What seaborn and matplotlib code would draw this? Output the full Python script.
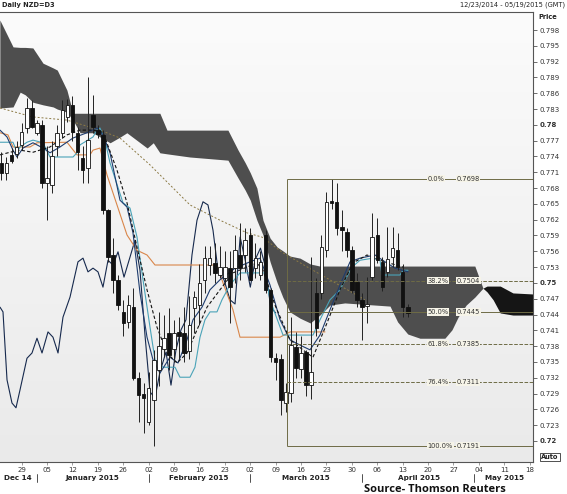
import matplotlib
matplotlib.use("Agg")
import matplotlib.pyplot as plt
import matplotlib.transforms as mtransforms
from matplotlib.colors import LinearSegmentedColormap
import numpy as np
import pandas as pd
import seaborn as sns

sns.set_theme(style="white")
plt.rcParams['font.family'] = ['DejaVu Sans']

# trading-day index: 0 = Mon 29 Dec 2014, -4 = Tue 23 Dec 2014
day_idx = list(range(-4, 77))
opens = [0.7728, 0.7709, 0.7743, 0.7745, 0.7762, 0.7794, 0.7832, 0.7785, 0.7800, 0.7690,
         0.7685, 0.7760, 0.7785, 0.7815, 0.7838, 0.7785, 0.7737, 0.7718, 0.7819, 0.7790,
         0.7781, 0.7638, 0.7553, 0.7505, 0.7445, 0.7425, 0.7454, 0.7320, 0.7290, 0.7236,
         0.7278, 0.7335, 0.7375, 0.7405, 0.7375, 0.7407, 0.7405, 0.7370, 0.7453, 0.7458,
         0.7505, 0.7534, 0.7538, 0.7515, 0.7510, 0.7528, 0.7528, 0.7553, 0.7553, 0.7591,
         0.7528, 0.7515, 0.7591, 0.7487, 0.7357, 0.7355, 0.7272, 0.7291, 0.7378, 0.7336,
         0.7369, 0.7306, 0.7481, 0.7481, 0.7563, 0.7656, 0.7654, 0.7606, 0.7597, 0.7563,
         0.7502, 0.7468, 0.7456, 0.7511, 0.7591, 0.7540, 0.7520, 0.7549, 0.7562, 0.7521,
         0.7454]
highs = [0.7748, 0.7739, 0.7756, 0.7770, 0.7803, 0.7851, 0.7847, 0.7810, 0.7810, 0.7760,
         0.7770, 0.7800, 0.7847, 0.7850, 0.7855, 0.7795, 0.7760, 0.7891, 0.7857, 0.7800,
         0.7790, 0.7640, 0.7585, 0.7515, 0.7468, 0.7478, 0.7490, 0.7330, 0.7310, 0.7330,
         0.7373, 0.7445, 0.7440, 0.7452, 0.7430, 0.7435, 0.7455, 0.7475, 0.7485, 0.7535,
         0.7570, 0.7570, 0.7575, 0.7570, 0.7560, 0.7560, 0.7590, 0.7614, 0.7605, 0.7605,
         0.7575, 0.7560, 0.7600, 0.7490, 0.7367, 0.7365, 0.7310, 0.7435, 0.7407, 0.7400,
         0.7372, 0.7549, 0.7510, 0.7590, 0.7673, 0.7698, 0.7690, 0.7638, 0.7605, 0.7570,
         0.7519, 0.7480, 0.7511, 0.7633, 0.7623, 0.7550, 0.7606, 0.7606, 0.7595, 0.7536,
         0.7460]
lows = [0.7695, 0.7695, 0.7728, 0.7738, 0.7752, 0.7784, 0.7794, 0.7780, 0.7680, 0.7620,
        0.7670, 0.7740, 0.7775, 0.7805, 0.7770, 0.7715, 0.7690, 0.7690, 0.7785, 0.7775,
        0.7630, 0.7540, 0.7480, 0.7448, 0.7400, 0.7415, 0.7315, 0.7236, 0.7215, 0.7230,
        0.7191, 0.7305, 0.7360, 0.7335, 0.7350, 0.7355, 0.7350, 0.7355, 0.7405, 0.7420,
        0.7480, 0.7515, 0.7500, 0.7510, 0.7500, 0.7424, 0.7500, 0.7505, 0.7520, 0.7505,
        0.7510, 0.7505, 0.7480, 0.7350, 0.7316, 0.7250, 0.7255, 0.7274, 0.7320, 0.7320,
        0.7285, 0.7280, 0.7400, 0.7470, 0.7550, 0.7640, 0.7590, 0.7560, 0.7550, 0.7480,
        0.7455, 0.7392, 0.7424, 0.7505, 0.7537, 0.7485, 0.7511, 0.7530, 0.7525, 0.7436,
        0.7436]
closes = [0.7709, 0.7728, 0.7731, 0.7758, 0.7786, 0.7832, 0.7796, 0.7803, 0.7690, 0.7700,
          0.7740, 0.7785, 0.7828, 0.7837, 0.7786, 0.7748, 0.7714, 0.7771, 0.7796, 0.7783,
          0.7638, 0.7549, 0.7505, 0.7458, 0.7424, 0.7458, 0.7320, 0.7288, 0.7282, 0.7300,
          0.7354, 0.7380, 0.7395, 0.7363, 0.7405, 0.7400, 0.7367, 0.7420, 0.7474, 0.7500,
          0.7547, 0.7547, 0.7519, 0.7530, 0.7530, 0.7492, 0.7562, 0.7528, 0.7581, 0.7505,
          0.7547, 0.7540, 0.7487, 0.7359, 0.7350, 0.7278, 0.7293, 0.7382, 0.7338, 0.7367,
          0.7306, 0.7330, 0.7414, 0.7568, 0.7654, 0.7652, 0.7604, 0.7600, 0.7563, 0.7487,
          0.7468, 0.7454, 0.7460, 0.7587, 0.7543, 0.7492, 0.7545, 0.7566, 0.7530, 0.7454,
          0.7443]

# Ichimoku cloud, grey part then black part
cloud_x = [-4.3, -1.7, -0.3, 0.7, 2.2, 4.2, 6.2, 7.0, 8.9, 10.1, 11.5, 14.0, 17.4, 19.4,
           20.7, 24.7, 25.9, 27.2, 28.6, 33.1, 40.6, 42.6, 44.0, 45.0, 46.3, 47.5, 48.9,
           50.3, 51.4, 52.8, 54.8, 56.8, 58.7, 60.7, 63.6, 72.5, 74.0, 76.0, 78.4, 83.3,
           84.7, 85.9, 87.5, 89.2, 90.8]
cloud_top = [0.7999, 0.7948, 0.7947, 0.7947, 0.7946, 0.7917, 0.7908, 0.7904, 0.7866, 0.7822,
             0.7822, 0.7822, 0.7822, 0.7822, 0.7822, 0.7822, 0.7822, 0.7822, 0.7790, 0.7790,
             0.7790, 0.7752, 0.7728, 0.7709, 0.7680, 0.7619, 0.7585, 0.7568, 0.7561, 0.7551,
             0.7547, 0.7536, 0.7532, 0.7532, 0.7532, 0.7532, 0.7532, 0.7532, 0.7532, 0.7532,
             0.7532, 0.7532, 0.7532, 0.7532, 0.7490]
cloud_bot = [0.7832, 0.7834, 0.7862, 0.7857, 0.7843, 0.7838, 0.7834, 0.7830, 0.7824, 0.7809,
             0.7785, 0.7785, 0.7766, 0.7777, 0.7785, 0.7756, 0.7766, 0.7747, 0.7745, 0.7739,
             0.7733, 0.7699, 0.7676, 0.7657, 0.7619, 0.7591, 0.7540, 0.7500, 0.7473, 0.7445,
             0.7433, 0.7424, 0.7439, 0.7458, 0.7462, 0.7456, 0.7426, 0.7403, 0.7395, 0.7395,
             0.7411, 0.7435, 0.7458, 0.7473, 0.7490]
cloud2_x = [90.8, 91.6, 92.8, 94.2, 96.7, 100.7]
cloud2_top = [0.7490, 0.7494, 0.7494, 0.7494, 0.7481, 0.7479]
cloud2_bot = [0.7490, 0.7483, 0.7468, 0.7443, 0.7439, 0.7439]

# indicator lines (vertices)
kijun_x = [-4.27, -2.7, -1.71, 1.63, 3.01, 8.92, 10.89, 13.44, 14.04, 15.41, 16.79, 18.76,
           20.73, 22.7, 24.67, 26.24, 38.44, 39.63, 41.59, 42.97, 50.85, 52.82, 59.7]
kijun_y = [0.7785, 0.7781, 0.7758, 0.7758, 0.7766, 0.7767, 0.7743, 0.7743, 0.7752, 0.7756,
           0.7705, 0.7648, 0.7591, 0.7562, 0.7553, 0.7534, 0.7534, 0.7500, 0.7449, 0.7397,
           0.7397, 0.7407, 0.7407]
tenkan_x = [-4.27, -1.71, -0.93, -0.33, 1.04, 2.22, 4.19, 5.57, 10.1, 10.89, 11.48, 14.04,
            14.82, 15.41, 16.39, 17.38, 19.94, 21.32, 22.7, 23.88, 25.26, 26.24, 27.81, 30.18,
            31.16, 33.13, 34.11, 35.1, 36.08, 37.07, 38.44, 39.43, 41.0, 42.97, 47.89, 48.88,
            51.44, 57.34, 58.72, 60.69, 62.66, 65.02, 66.59, 69.15, 70.53, 70.93, 74.47,
            75.06, 76.04]
tenkan_y = [0.7767, 0.7767, 0.7748, 0.7758, 0.7767, 0.7771, 0.7766, 0.7739, 0.7739, 0.7747,
            0.7762, 0.7777, 0.7790, 0.7794, 0.7771, 0.7728, 0.7652, 0.7642, 0.7587, 0.7506,
            0.7416, 0.7354, 0.7340, 0.7340, 0.7321, 0.7321, 0.7340, 0.7397, 0.7430, 0.7445,
            0.7445, 0.7468, 0.7496, 0.7519, 0.7519, 0.7468, 0.7401, 0.7401, 0.7430, 0.7468,
            0.7487, 0.7530, 0.7543, 0.7547, 0.7543, 0.7515, 0.7515, 0.7524, 0.7524]
fast_x = [-4.27, -2.89, -1.71, -0.93, 0.26, 2.22, 4.19, 5.57, 7.54, 10.1, 12.85, 14.82,
          16.0, 17.38, 19.35, 20.73, 21.91, 23.29, 24.67, 25.85, 27.22, 29.19, 30.77, 32.54,
          33.72, 35.49, 37.07, 39.04, 42.0, 44.94, 46.91, 48.88, 50.85, 52.82, 54.78, 56.75,
          58.72, 60.69, 62.66, 64.63, 66.59, 69.55, 71.52, 73.49, 76.04]
fast_y = [0.7790, 0.7777, 0.7752, 0.7739, 0.7756, 0.7766, 0.7756, 0.7747, 0.7758, 0.7775,
          0.7785, 0.7794, 0.7781, 0.7747, 0.7657, 0.7644, 0.7595, 0.7481, 0.7397, 0.7354,
          0.7329, 0.7359, 0.7348, 0.7392, 0.7430, 0.7454, 0.7487, 0.7506, 0.7528, 0.7540,
          0.7547, 0.7496, 0.7430, 0.7392, 0.7382, 0.7373, 0.7401, 0.7449, 0.7496, 0.7540,
          0.7547, 0.7553, 0.7540, 0.7528, 0.7521]
chikou_x = [-4.27, -3.68, -2.89, -1.91, -1.12, -0.33, 1.04, 2.03, 3.01, 4.0, 5.18, 6.16,
            7.15, 8.13, 9.51, 11.08, 12.07, 13.05, 14.04, 15.02, 16.0, 16.99, 17.97, 18.96,
            20.14, 21.32, 22.3, 23.29, 24.27, 25.26, 26.24, 27.22, 28.41, 29.39, 30.37, 31.36,
            32.34, 33.52, 34.51, 35.69, 36.67, 37.66, 38.64, 39.82, 41.0, 42.0, 43.0, 44.0,
            45.0, 46.0, 47.0, 48.0, 49.0, 50.0]
chikou_y = [0.7454, 0.7445, 0.7316, 0.7272, 0.7263, 0.7297, 0.7357, 0.7367, 0.7395, 0.7367,
            0.7407, 0.7397, 0.7367, 0.7435, 0.7473, 0.7540, 0.7547, 0.7521, 0.7528, 0.7521,
            0.7492, 0.7543, 0.7534, 0.7559, 0.7511, 0.7549, 0.7581, 0.7524, 0.7401, 0.7293,
            0.7282, 0.7331, 0.7369, 0.7306, 0.7373, 0.7411, 0.7430, 0.7553, 0.7619, 0.7654,
            0.7648, 0.7600, 0.7524, 0.7506, 0.7468, 0.7460, 0.7587, 0.7543, 0.7492, 0.7545,
            0.7566, 0.7530, 0.7454, 0.7443]
ema_x = [-4.27, -2.3, -0.33, 2.22, 5.57, 8.92, 11.48, 14.04, 16.0, 18.76, 20.73, 22.7,
         24.67, 26.63, 28.6, 30.57, 32.54, 34.51, 36.48, 39.04, 41.59, 46.32, 47.5, 49.86,
         52.82, 56.16, 57.34, 60.1, 62.66, 65.22, 67.97, 70.53, 75.06]
ema_y = [0.7743, 0.7748, 0.7752, 0.7748, 0.7758, 0.7781, 0.7790, 0.7790, 0.7786, 0.7714,
         0.7652, 0.7568, 0.7487, 0.7416, 0.7367, 0.7348, 0.7367, 0.7411, 0.7454, 0.7487,
         0.7519, 0.7538, 0.7524, 0.7458, 0.7392, 0.7367, 0.7359, 0.7424, 0.7487, 0.7538,
         0.7553, 0.7543, 0.7530]
sma_x = [-4.27, 2.22, 8.92, 15.41, 19.35, 25.26, 33.13, 39.04, 44.35, 47.3, 51.44, 57.34, 67.58]
sma_y = [0.7832, 0.7815, 0.7809, 0.7790, 0.7775, 0.7724, 0.7648, 0.7619, 0.7595, 0.7587,
         0.7557, 0.7524, 0.7468]

# Fibonacci retracement
fib_pct = ['0.0%', '38.2%', '50.0%', '61.8%', '76.4%', '100.0%']
fib_val = [0.7698, 0.7504, 0.7445, 0.7385, 0.7311, 0.7191]
fib_start = 52.23

# axis labels
tick_days = ['29', '05', '12', '19', '26', '02', '09', '16', '23', '02', '09', '16', '23',
             '30', '06', '13', '20', '27', '04', '11', '18']
month_names = ['Dec 14', 'January 2015', 'February 2015', 'March 2015', 'April 2015', 'May 2015']
month_pos = [-0.7, 14.0, 34.9, 56.0, 78.2, 95.1]
month_breaks = [3, 25, 45, 67, 89]

W, H = 567, 494
fig = plt.figure(figsize=(W / 100, H / 100), dpi=100)
ax = fig.add_axes([0, 32 / H, 533 / W, 450 / H])
xmin, xmax = -4.27, 100.65
ymin, ymax = 0.71601, 0.80142

# soft grey gradient background of the plot area
grad = LinearSegmentedColormap.from_list('bg', ['#fbfbfb', '#eaeaea'])
ax.imshow(np.linspace(0, 1, 100)[:, None], extent=[xmin, xmax, ymin, ymax],
          aspect='auto', cmap=grad, zorder=0)

# cloud
ax.fill_between(cloud_x, cloud_bot, cloud_top, color='#4e4e4e', lw=0, zorder=1)
ax.fill_between(cloud2_x, cloud2_bot, cloud2_top, color='#151515', lw=0, zorder=1)

# lines
line_specs = [
    (sma_x, sma_y, '#8c7a45', 0.7, (0, (2, 2))),
    (chikou_x, chikou_y, '#16294d', 0.8, '-'),
    (kijun_x, kijun_y, '#d9864a', 0.8, '-'),
    (tenkan_x, tenkan_y, '#4aa3b8', 0.8, '-'),
    (fast_x, fast_y, '#1e3c6e', 0.8, '-'),
    (ema_x, ema_y, '#111111', 0.8, (0, (3, 2))),
]
for xs, ys, col, lw, ls in line_specs:
    df = pd.DataFrame({'x': xs, 'y': ys})
    sns.lineplot(data=df, x='x', y='y', ax=ax, color=col, lw=lw, linestyle=ls,
                 sort=False, estimator=None, zorder=3)

# candles
cdf = pd.DataFrame({'i': day_idx, 'o': opens, 'h': highs, 'l': lows, 'c': closes})
ax.vlines(cdf['i'], cdf['l'], cdf['h'], color='#222222', lw=0.7, zorder=4)
up = cdf['c'] >= cdf['o']
body_lo = np.minimum(cdf['o'], cdf['c'])
body_h = np.maximum(np.abs(cdf['c'] - cdf['o']), 0.00008)
ax.bar(cdf['i'][up], body_h[up], bottom=body_lo[up], width=0.7, color='white',
       edgecolor='#111111', lw=0.6, zorder=5)
ax.bar(cdf['i'][~up], body_h[~up], bottom=body_lo[~up], width=0.7, color='#111111',
       edgecolor='#111111', lw=0.6, zorder=5)

# fibonacci retracement
fib_col = '#6e6b45'
for pct, v in zip(fib_pct, fib_val):
    ls = '--' if pct in ('38.2%', '61.8%', '76.4%') else '-'
    ax.hlines(v, fib_start, xmax, color=fib_col, lw=0.7, linestyles=ls, zorder=6)
    box = dict(facecolor='#f6f4e8', edgecolor='none', pad=0.5)
    ax.text(79.9, v, pct, fontsize=4.8, color='#333333', va='center', ha='left', bbox=box, zorder=7)
    ax.text(85.6, v, f'{v:.4f}', fontsize=4.8, color='#333333', va='center', ha='left', bbox=box, zorder=7)
ax.vlines(fib_start, min(fib_val), max(fib_val), color=fib_col, lw=0.7, zorder=6)

ax.set_xlim(xmin, xmax)
ax.set_ylim(ymin, ymax)

# y axis on the right
yt = [round(0.720 + 0.003 * k, 3) for k in range(27)]
ax.yaxis.tick_right()
ax.set_yticks(yt)
ax.set_yticklabels([f'{v:.3f}'.rstrip('0') for v in yt])
for lab, v in zip(ax.get_yticklabels(), yt):
    if round(v * 1000) % 30 == 0:
        lab.set_fontweight('bold')
ax.tick_params(axis='y', right=True, length=3, width=0.6, pad=1.5, labelsize=5,
               labelcolor='#333333', color='#555555')

# x axis
ax.set_xticks(list(range(0, 101, 5)))
ax.set_xticklabels(tick_days)
ax.tick_params(axis='x', bottom=True, length=2, width=0.5, pad=1.5, labelsize=5,
               labelcolor='#333333', color='#777777')
ax.set_xlabel('')
ax.set_ylabel('')

for side in ['top', 'right', 'bottom']:
    ax.spines[side].set_color('#555555')
    ax.spines[side].set_linewidth(0.8)
ax.spines['left'].set_visible(False)

trans = mtransforms.blended_transform_factory(ax.transData, fig.transFigure)
for name, pos in zip(month_names, month_pos):
    fig.text(0, 0, name, transform=trans, fontsize=5.2, fontweight='bold', color='#222222',
             ha='center', va='center').set_position((pos, 1 - 478 / H))
for b in month_breaks:
    fig.lines.append(plt.Line2D([b, b], [1 - 474 / H, 1 - 482 / H], transform=trans,
                                color='#333333', lw=0.6))

# header
fig.text(2 / W, 1 - 5 / H, 'Daily NZD=D3', fontsize=4.8, fontweight='bold', color='#222222',
         ha='left', va='center')
fig.text(565 / W, 1 - 5 / H, '12/23/2014 - 05/19/2015 (GMT)', fontsize=4.8, color='#222222',
         ha='right', va='center')
fig.text(548 / W, 1 - 17 / H, 'Price', fontsize=4.8, fontweight='bold', color='#222222',
         ha='center', va='center')
fig.text(550 / W, 1 - 457 / H, 'Auto', fontsize=4.8, fontweight='bold', color='#222222',
         ha='center', va='center',
         bbox=dict(facecolor='white', edgecolor='#333333', lw=0.6, pad=0.8))
fig.text(435 / W, 1 - 489.5 / H, 'Source- Thomson Reuters', fontsize=8, fontweight='bold',
         color='#111111', ha='center', va='center', family=['Open Sans', 'DejaVu Sans'])

fig.savefig('out.png', dpi=100)
